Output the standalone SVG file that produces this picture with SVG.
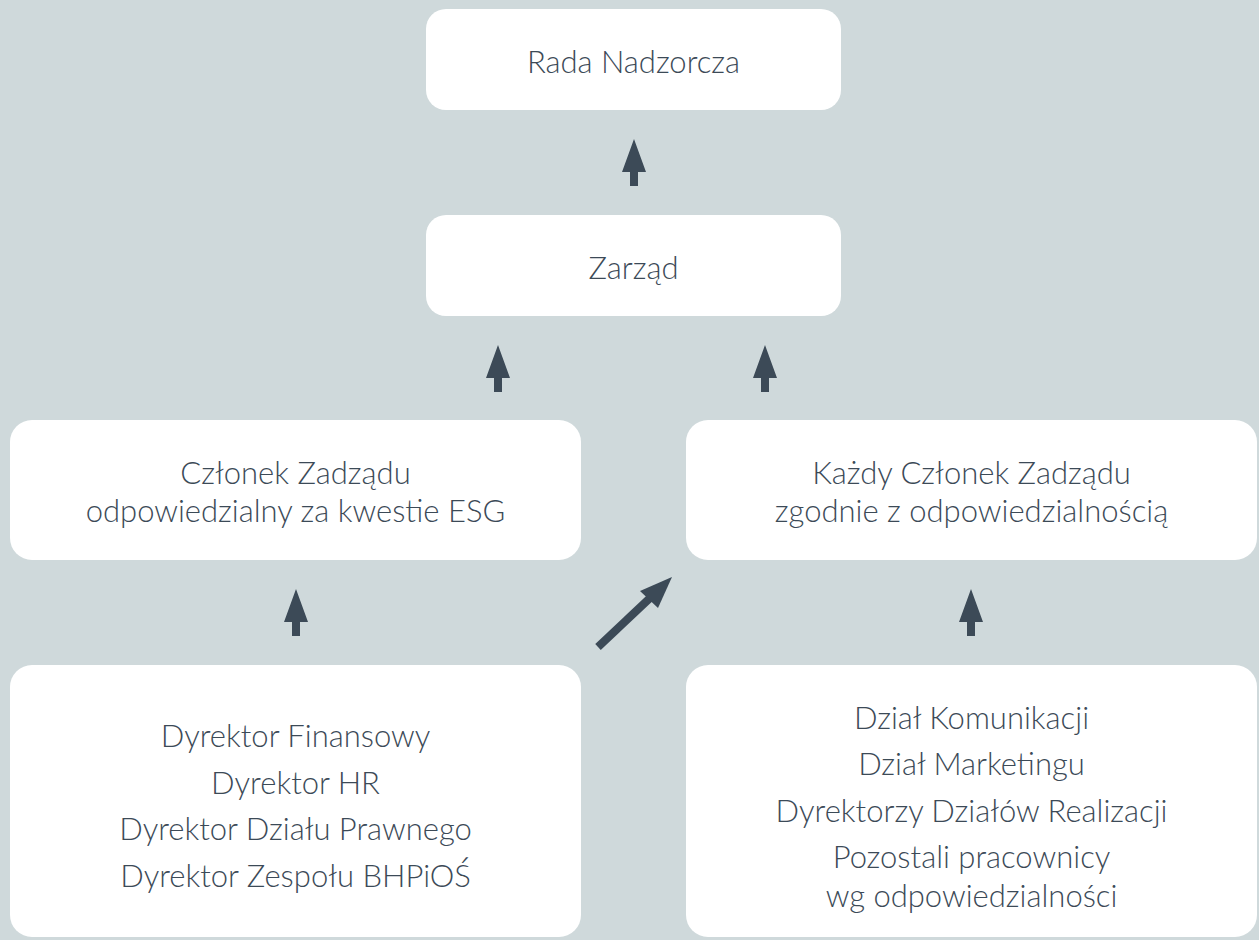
<svg xmlns="http://www.w3.org/2000/svg" width="1259" height="940" viewBox="0 0 1259 940">
<style>
.box{fill:#ffffff}
.t{font-family:Lato,"Liberation Sans",sans-serif;font-weight:300;font-size:31px;fill:#3c4a57;text-anchor:middle}
.arr{fill:#3c4a57}
</style>
<rect width="1259" height="940" fill="#cfd9db"/>
<g id="rada">
<rect class="box" x="426" y="9" width="415" height="101" rx="20"/>
<text class="t" x="633.500" y="73">Rada Nadzorcza</text>
</g>
<g id="zarzad">
<rect class="box" x="426" y="215" width="415" height="101" rx="20"/>
<text class="t" x="633.500" y="279">Zarząd</text>
</g>
<g id="czlonek-esg">
<rect class="box" x="10" y="420" width="571" height="140" rx="22"/>
<text class="t" x="295.500" y="484">Członek Zadządu</text>
<text class="t" x="295.500" y="522">odpowiedzialny za kwestie ESG</text>
</g>
<g id="kazdy-czlonek">
<rect class="box" x="686" y="420" width="571" height="140" rx="22"/>
<text class="t" x="971.500" y="484">Każdy Członek Zadządu</text>
<text class="t" x="971.500" y="522">zgodnie z odpowiedzialnością</text>
</g>
<g id="dyrektorzy">
<rect class="box" x="10" y="665" width="571" height="272" rx="22"/>
<text class="t" x="295.500" y="747">Dyrektor Finansowy</text>
<text class="t" x="295.500" y="794">Dyrektor HR</text>
<text class="t" x="295.500" y="840">Dyrektor Działu Prawnego</text>
<text class="t" x="295.500" y="887">Dyrektor Zespołu BHPiOŚ</text>
</g>
<g id="dzialy">
<rect class="box" x="686" y="665" width="571" height="272" rx="22"/>
<text class="t" x="971.500" y="729">Dział Komunikacji</text>
<text class="t" x="971.500" y="775">Dział Marketingu</text>
<text class="t" x="971.500" y="822">Dyrektorzy Działów Realizacji</text>
<text class="t" x="971.500" y="868">Pozostali pracownicy</text>
<text class="t" x="971.500" y="907">wg odpowiedzialności</text>
</g>
<defs>
<path id="up" d="M0,0 L12,33 L4,33 L4,47 L-4,47 L-4,33 L-12,33 Z"/>
</defs>
<g id="connectors" class="arr">
<use href="#up" x="634" y="139"/>
<use href="#up" x="498" y="345"/>
<use href="#up" x="765" y="345"/>
<use href="#up" x="296" y="589"/>
<use href="#up" x="971" y="589"/>
<line x1="598" y1="647" x2="650" y2="598" stroke="#3c4a57" stroke-width="8"/>
<polygon points="672,577 658,608 640,591"/>
</g>
</svg>
